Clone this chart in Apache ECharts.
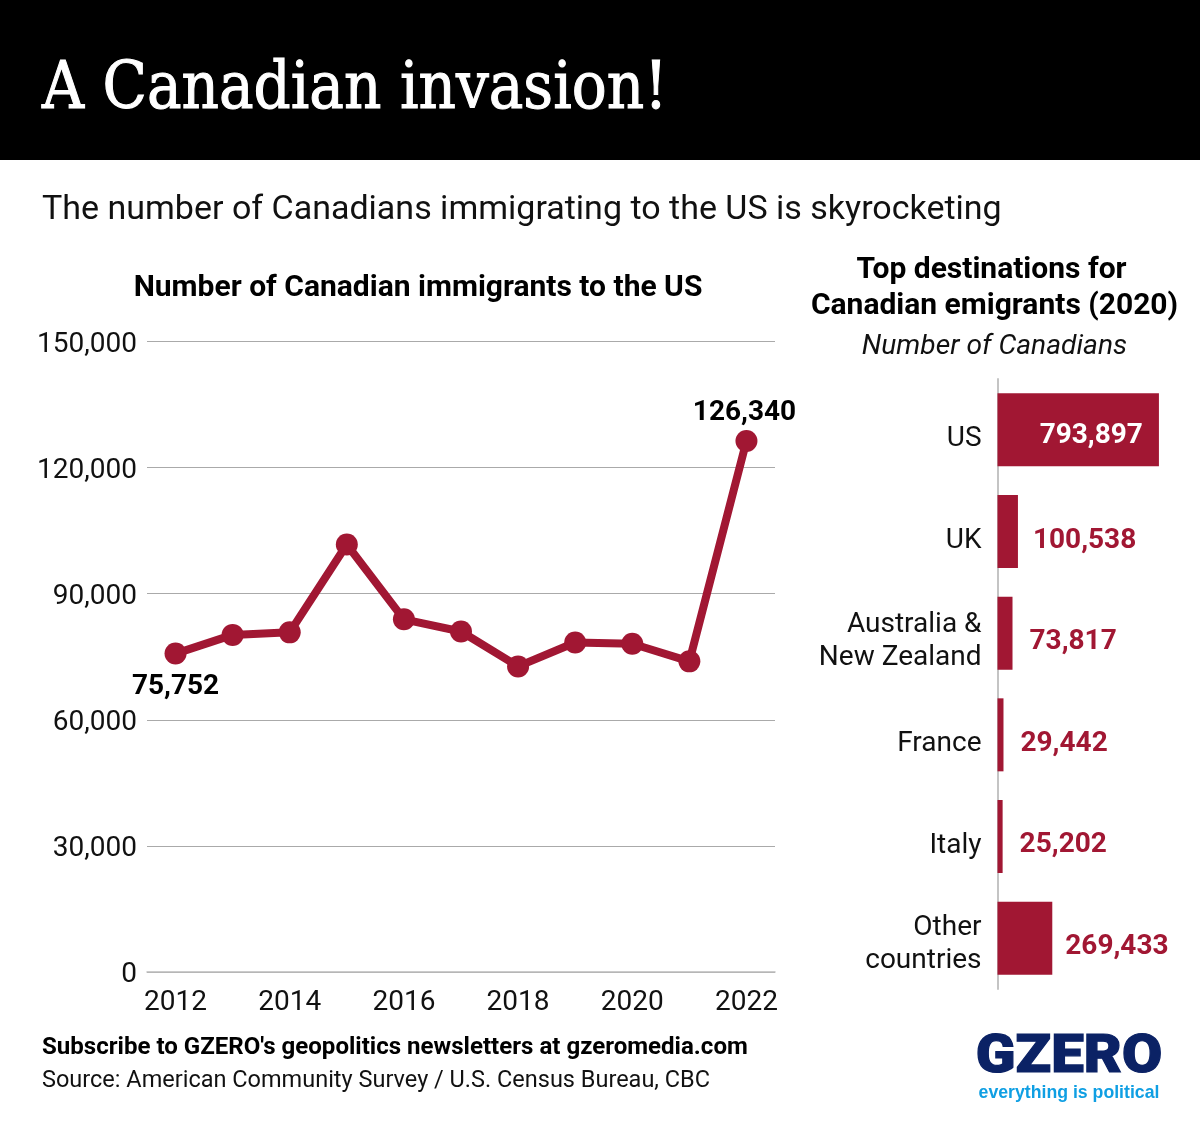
<!DOCTYPE html>
<html>
<head>
<meta charset="utf-8">
<style>html,body{margin:0;padding:0;background:#fff}#main{width:1200px;height:1132px}</style>
<script src="https://cdn.jsdelivr.net/npm/echarts@6/dist/echarts.min.js"></script>
</head>
<body>
<div id="main"></div>
<script>
var years = ['2012','2013','2014','2015','2016','2017','2018','2019','2020','2021','2022'];
var immigrants = [75752,80200,80800,101700,83900,81000,72700,78400,78100,73900,126340];
var destinations = ['US','UK','Australia &\nNew Zealand','France','Italy','Other\ncountries'];
var emigrants = [793897,100538,73817,29442,25202,269433];

// label nudges per bar, the source placed these by hand
var barLabelNudge = [[1,6],[0,9],[2,9],[2,9],[2,8],[-2,9]];
// spacer style above each category label, pushes the text down
var catSpacer = ['g18','g18','g17','g18','g18','g13'];

var red = '#a11733';
var ink = '#111';
var font = 'Roboto';
var fmt = function (v) { return Number(v).toLocaleString('en-US'); };

function txt(x, y, text, size, weight, color, align, family, style) {
    return {
        type: 'text', x: x, y: y, silent: true,
        style: {
            text: text, fill: color || '#000', align: align || 'left', verticalAlign: 'middle',
            font: (style || 'normal') + ' ' + (weight || 400) + ' ' + size + 'px "' + (family || font) + '"'
        }
    };
}
function spacer(h) {
    return {fontSize: 1, lineHeight: h, color: 'transparent'};
}

var headline = txt(42, 91, 'A Canadian invasion!', 64.6, 400, '#fff', 'left', 'DejaVu Serif Condensed');
headline.style.stroke = '#fff';
headline.style.lineWidth = 1;

var logo = txt(0, 0, 'GZERO', 54, 900, '#0b2265', 'center');
logo.x = 1069;
logo.y = 1058.5;
logo.scaleX = 1.08;
logo.style.stroke = '#0b2265';
logo.style.lineWidth = 1.2;

var myChart = echarts.init(document.getElementById('main'));
var option = {
    animation: false,
    backgroundColor: '#fff',
    graphic: [
        {type: 'rect', x: 0, y: 0, shape: {width: 1200, height: 160}, style: {fill: '#000'}, silent: true},
        headline,
        txt(42, 210, 'The number of Canadians immigrating to the US is skyrocketing', 34, 400, ink),
        txt(418, 288, 'Number of Canadian immigrants to the US', 30, 700, '#000', 'center'),
        txt(991.5, 270, 'Top destinations for', 30, 700, '#000', 'center'),
        txt(994.5, 306, 'Canadian emigrants (2020)', 30, 700, '#000', 'center'),
        txt(994.5, 347, 'Number of Canadians', 28.2, 400, ink, 'center', font, 'italic'),
        txt(42, 1048, "Subscribe to GZERO's geopolitics newsletters at gzeromedia.com", 24.07, 700),
        txt(42, 1081, 'Source: American Community Survey / U.S. Census Bureau, CBC', 23.5, 400, ink),
        logo,
        txt(1069, 1093, 'everything is political', 17.7, 700, '#0f9fe3', 'center', 'Liberation Sans')
    ],
    grid: [
        {left: 147, top: 341.5, width: 628, height: 630.5},
        {left: 997.5, top: 379, width: 183, height: 610}
    ],
    xAxis: [
        {
            type: 'category', gridIndex: 0, data: years, boundaryGap: true,
            axisLine: {lineStyle: {color: '#bbb', width: 1.5}},
            axisTick: {show: false},
            axisLabel: {interval: 1, color: ink, fontFamily: font, fontSize: 28, margin: 17}
        },
        {type: 'value', gridIndex: 1, min: 0, max: 900000, show: false}
    ],
    yAxis: [
        {
            type: 'value', gridIndex: 0, min: 0, max: 150000, interval: 30000,
            axisLine: {show: false}, axisTick: {show: false},
            axisLabel: {
                margin: 10,
                formatter: function (v) { return '{g6| }\n{a|' + fmt(v) + '}'; },
                rich: {
                    g6: spacer(6),
                    a: {color: ink, fontFamily: font, fontSize: 28, lineHeight: 34}
                }
            },
            splitLine: {lineStyle: {color: '#aaa', width: 1}}
        },
        {
            type: 'category', gridIndex: 1, data: destinations, inverse: true,
            axisLine: {lineStyle: {color: '#c4c4c4', width: 2}},
            axisTick: {show: false},
            axisLabel: {
                margin: 16, align: 'right',
                formatter: function (v, i) {
                    return '{' + catSpacer[i] + '| }\n' + v.split('\n').map(function (s) {
                        return '{a|' + s + '}';
                    }).join('\n');
                },
                rich: {
                    g18: spacer(18), g17: spacer(17), g13: spacer(13),
                    a: {color: ink, fontFamily: font, fontSize: 28, lineHeight: 33, align: 'right'}
                }
            }
        }
    ],
    series: [
        {
            type: 'line', xAxisIndex: 0, yAxisIndex: 0,
            symbol: 'circle', symbolSize: 22,
            lineStyle: {color: red, width: 8},
            itemStyle: {color: red},
            data: immigrants.map(function (v, i) {
                var first = i === 0, last = i === immigrants.length - 1;
                return {
                    value: v,
                    label: {
                        show: first || last,
                        position: first ? 'bottom' : 'top',
                        distance: first ? 8 : 3,
                        offset: last ? [-2, 0] : [0, 0],
                        color: '#000', fontFamily: font, fontSize: 28, fontWeight: 700,
                        formatter: function (p) { return fmt(p.value); }
                    }
                };
            })
        },
        {
            type: 'bar', xAxisIndex: 1, yAxisIndex: 1,
            barWidth: 73,
            itemStyle: {color: red},
            data: emigrants.map(function (v, i) {
                return {
                    value: v,
                    label: {
                        show: true,
                        position: i === 0 ? 'insideRight' : 'right',
                        distance: i === 0 ? 17 : 15,
                        offset: barLabelNudge[i],
                        color: i === 0 ? '#fff' : red,
                        fontFamily: font, fontSize: 28, fontWeight: 700,
                        formatter: function (p) { return fmt(p.value); }
                    }
                };
            })
        }
    ]
};
myChart.setOption(option);
</script>
</body>
</html>
